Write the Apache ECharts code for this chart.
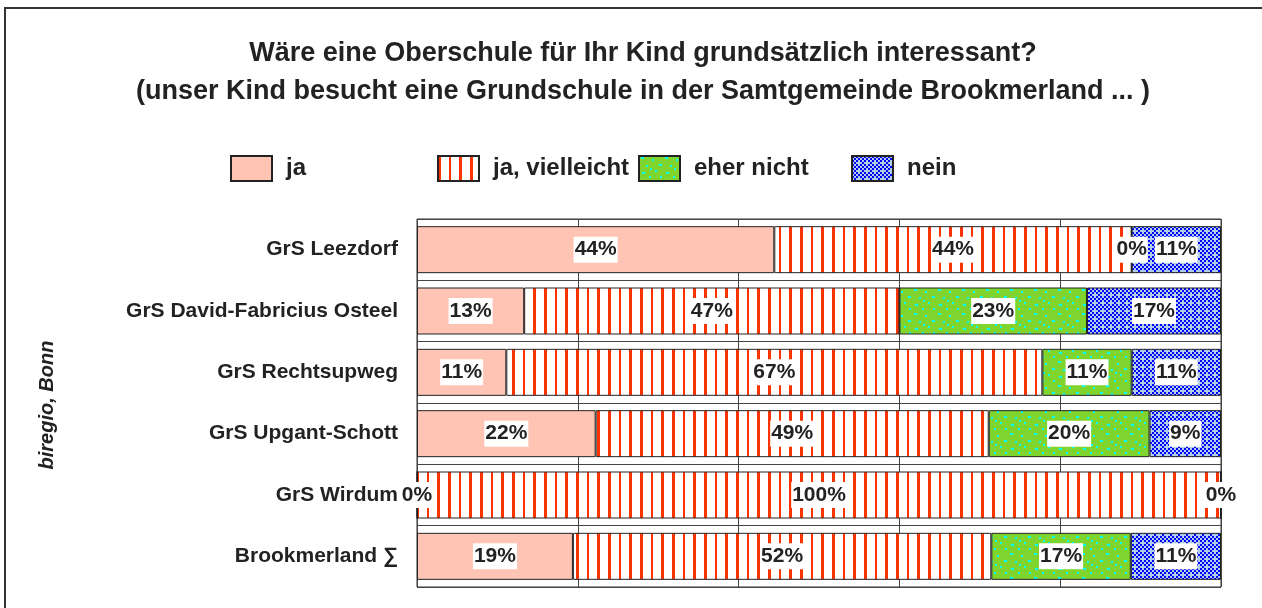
<!DOCTYPE html>
<html>
<head>
<meta charset="utf-8">
<script src="https://cdn.jsdelivr.net/npm/echarts@6/dist/echarts.min.js"></script>
<style>
  html, body { margin: 0; padding: 0; background: #fff; }
  #chart { width: 1262px; height: 608px; }
</style>
</head>
<body>
<div id="chart"></div>
<script>
// Schools (top to bottom) and answer shares in percent
const categories = ['GrS Leezdorf', 'GrS David-Fabricius Osteel', 'GrS Rechtsupweg', 'GrS Upgant-Schott', 'GrS Wirdum', 'Brookmerland \u2211'];
const ja           = [44.44, 13.33, 11.11, 22.22, 0,   19.39];
const jaVielleicht = [44.45, 46.67, 66.67, 48.89, 100, 52.04];
const eherNicht    = [0,     23.33, 11.11, 20.00, 0,   17.35];
const nein         = [11.11, 16.67, 11.11, 8.89,  0,   11.22];
const seriesNames  = ['ja', 'ja, vielleicht', 'eher nicht', 'nein'];

const FONT = '"Liberation Sans", Arial, Helvetica, sans-serif';
const TEXT = '#222';

// --- fill patterns -------------------------------------------------------
function makeCanvas(w, h) {
  const c = document.createElement('canvas');
  c.width = w; c.height = h;
  return c;
}
// white with red vertical stripes
function stripePattern() {
  const c = makeCanvas(32, 4);
  const g = c.getContext('2d');
  g.fillStyle = '#ffffff'; g.fillRect(0, 0, 32, 4);
  g.fillStyle = '#ff3300';
  g.fillRect(0, 0, 3, 4);
  g.fillRect(11, 0, 2, 4);
  g.fillRect(21, 0, 3, 4);
  return c;
}
// green with scattered cyan specks
function speckPattern() {
  const c = makeCanvas(24, 24);
  const g = c.getContext('2d');
  g.fillStyle = '#80d42e'; g.fillRect(0, 0, 24, 24);
  g.fillStyle = '#00ffff';
  const dots = [[2, 1, 3, 2], [13, 3, 2, 2], [20, 8, 3, 2], [7, 9, 2, 2], [16, 14, 2, 2],
                [3, 16, 3, 2], [10, 20, 2, 2], [21, 20, 2, 2], [11, 12, 2, 2]];
  dots.forEach(d => g.fillRect(d[0], d[1], d[2], d[3]));
  return c;
}
// light blue with dense blue dot grid
function dotPattern() {
  const c = makeCanvas(8, 8);
  const g = c.getContext('2d');
  g.fillStyle = '#b3cce8'; g.fillRect(0, 0, 8, 8);
  g.fillStyle = '#0000ff';
  const dots = [[0, 0], [4, 0], [2, 2], [6, 2], [0, 4], [4, 4], [2, 6]];
  dots.forEach(d => g.fillRect(d[0], d[1], 2, 2));
  return c;
}

const fills = [
  '#ffc4b4',
  { image: stripePattern(), repeat: 'repeat' },
  { image: speckPattern(), repeat: 'repeat' },
  { image: dotPattern(), repeat: 'repeat' }
];
const values = [ja, jaVielleicht, eherNicht, nein];

const chart = echarts.init(document.getElementById('chart'), null, { renderer: 'canvas' });

const series = seriesNames.map((name, i) => ({
  name: name,
  type: 'bar',
  stack: 'total',
  barWidth: 47,
  data: values[i],
  itemStyle: { color: fills[i], borderColor: '#222', borderWidth: 1 },
  label: {
    show: true,
    position: 'inside',
    formatter: p => Math.round(p.value) + '%',
    fontFamily: FONT,
    fontSize: 21,
    fontWeight: 'bold',
    color: TEXT,
    backgroundColor: '#ffffff',
    padding: [3, 1, 2, 1]
  }
}));

const legendLefts = [230, 437, 638, 851];
const legends = seriesNames.map((name, i) => ({
  data: [{ name: name, icon: 'rect' }],
  left: legendLefts[i],
  top: 155,
  padding: 0,
  itemWidth: 41,
  itemHeight: 25,
  itemStyle: { borderColor: '#222', borderWidth: 2 },
  selectedMode: false,
  textStyle: {
    fontFamily: FONT, fontSize: 24, fontWeight: 'bold', color: TEXT,
    padding: [0, 0, 0, 9]
  }
}));

chart.setOption({
  animation: false,
  backgroundColor: '#ffffff',
  title: {
    text: 'Wäre eine Oberschule für Ihr Kind grundsätzlich interessant?\n(unser Kind besucht eine Grundschule in der Samtgemeinde Brookmerland ... )',
    left: 638,
    top: 30,
    textAlign: 'center',
    textStyle: {
      fontFamily: FONT, fontSize: 27, fontWeight: 'bold', color: TEXT, lineHeight: 38
    }
  },
  legend: legends,
  grid: { left: 417, right: 41, top: 219, bottom: 21, show: true, borderColor: '#333', borderWidth: 1 },
  xAxis: {
    type: 'value',
    min: 0, max: 100, interval: 20,
    axisLabel: { show: false },
    axisTick: { show: false },
    axisLine: { show: false },
    splitLine: { show: true, lineStyle: { color: '#444', width: 1 } }
  },
  yAxis: {
    type: 'category',
    inverse: true,
    data: categories,
    axisTick: { show: false },
    axisLine: { show: false },
    splitLine: { show: true, lineStyle: { color: '#444', width: 1 } },
    axisLabel: {
      margin: 19,
      fontFamily: FONT, fontSize: 21, fontWeight: 'bold', color: TEXT
    }
  },
  graphic: [
    {
      type: 'rect',
      shape: { x: 5, y: 8, width: 1400, height: 800 },
      style: { fill: 'none', stroke: '#333', lineWidth: 2 },
      silent: true
    },
    {
      type: 'text',
      x: 47, y: 405,
      rotation: Math.PI / 2,
      style: {
        text: 'biregio, Bonn',
        font: 'italic bold 20px ' + FONT,
        fill: TEXT,
        align: 'center',
        verticalAlign: 'middle'
      }
    }
  ],
  series: series
});
</script>
</body>
</html>
